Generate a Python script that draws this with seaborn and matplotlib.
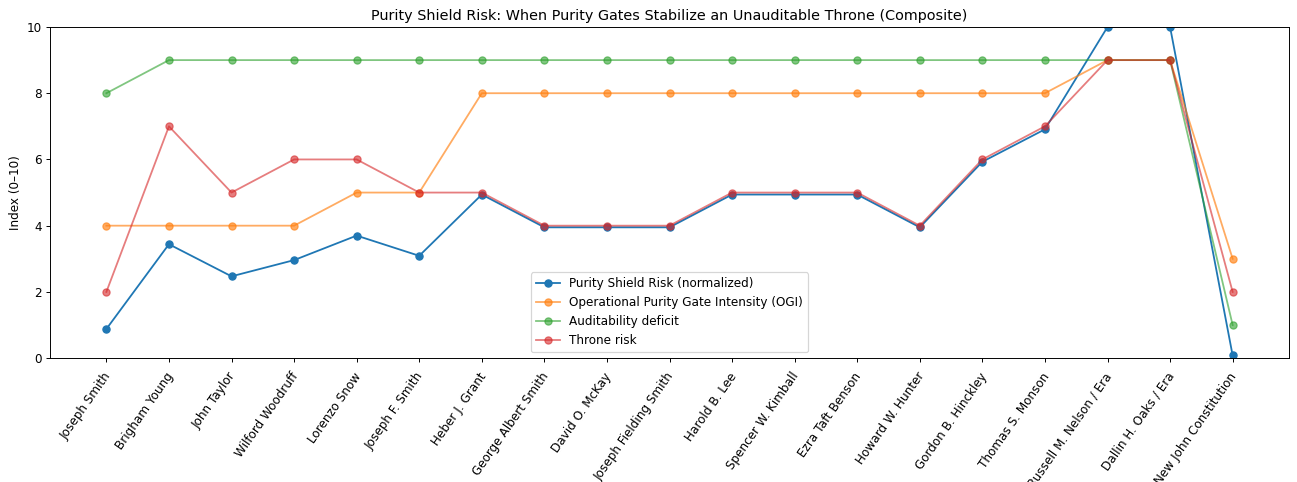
import numpy as np
import pandas as pd
import matplotlib
matplotlib.use("Agg")
import matplotlib.pyplot as plt
import matplotlib.transforms as mtransforms
import seaborn as sns

# Eras / presidents along the x axis
leaders = [
    "Joseph Smith", "Brigham Young", "John Taylor", "Wilford Woodruff",
    "Lorenzo Snow", "Joseph F. Smith", "Heber J. Grant", "George Albert Smith",
    "David O. McKay", "Joseph Fielding Smith", "Harold B. Lee",
    "Spencer W. Kimball", "Ezra Taft Benson", "Howard W. Hunter",
    "Gordon B. Hinckley", "Thomas S. Monson", "Russell M. Nelson / Era",
    "Dallin H. Oaks / Era", "New John Constitution",
]

# Series values
shield_risk = [0.88, 3.44, 2.47, 2.96, 3.70, 3.09, 4.94, 3.95, 3.95, 3.95,
               4.94, 4.94, 4.94, 3.95, 5.93, 6.91, 10.0, 10.0, 0.08]
ogi = [4, 4, 4, 4, 5, 5, 8, 8, 8, 8, 8, 8, 8, 8, 8, 8, 9, 9, 3]
audit_deficit = [8, 9, 9, 9, 9, 9, 9, 9, 9, 9, 9, 9, 9, 9, 9, 9, 9, 9, 1]
throne_risk = [2, 7, 5, 6, 6, 5, 5, 4, 4, 4, 5, 5, 5, 4, 6, 7, 9, 9, 2]

series_names = [
    "Purity Shield Risk (normalized)",
    "Operational Purity Gate Intensity (OGI)",
    "Auditability deficit",
    "Throne risk",
]

df = pd.DataFrame({
    "leader": leaders,
    "pos": np.arange(len(leaders)),
    series_names[0]: shield_risk,
    series_names[1]: ogi,
    series_names[2]: audit_deficit,
    series_names[3]: throne_risk,
})

colors = ["#1f77b4", "#ff7f0e", "#2ca02c", "#d62728"]
alphas = [1.0, 0.65, 0.6, 0.6]

DPI = 86.47
fig, ax = plt.subplots(figsize=(1297 / DPI, 482 / DPI), dpi=DPI)

for name, c, a in zip(series_names, colors, alphas):
    sns.lineplot(data=df, x="pos", y=name, ax=ax, color=c, alpha=a,
                 marker="o", markersize=6, markeredgecolor=c,
                 markeredgewidth=1, linewidth=1.5, label=name, sort=False)

ax.set_xticks(df["pos"])
ax.set_xticklabels(leaders, rotation=55, ha="right", rotation_mode="anchor")
# nudge the rotated labels slightly down/left, like the reference
shift = mtransforms.ScaledTranslation(-3 / 72, -3 / 72, fig.dpi_scale_trans)
for lbl in ax.get_xticklabels():
    lbl.set_transform(lbl.get_transform() + shift)

ax.set_xlim(-0.9, len(leaders) - 1 + 0.9)
ax.set_ylim(0, 10)
ax.set_xlabel("")
ax.set_ylabel("Index (0–10)")
ax.set_title("Purity Shield Risk: When Purity Gates Stabilize an Unauditable Throne (Composite)")
ax.legend(loc="lower center")

fig.subplots_adjust(left=0.0386, right=0.9938, top=0.944, bottom=0.257)
fig.savefig("out.png", dpi=DPI)
